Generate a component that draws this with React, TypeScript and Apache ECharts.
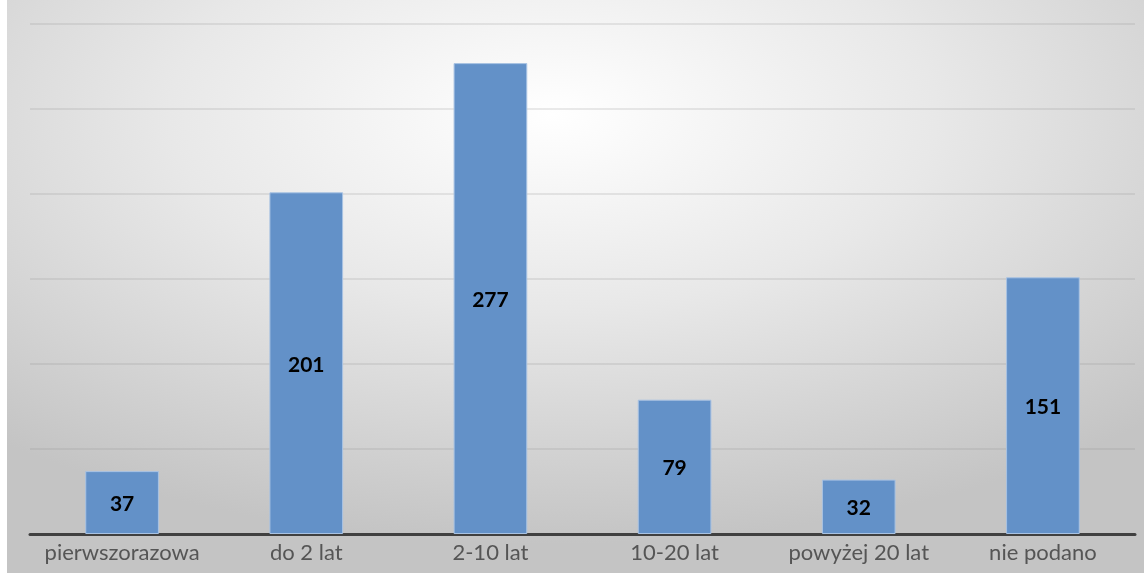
import React, { useEffect, useRef } from "react";
import * as echarts from "echarts";

const categories = ["pierwszorazowa", "do 2 lat", "2-10 lat", "10-20 lat", "powyżej 20 lat", "nie podano"];
const values = [37, 201, 277, 79, 32, 151];

export default function App() {
  const ref = useRef<HTMLDivElement>(null);
  useEffect(() => {
    const chart = echarts.init(ref.current!, null, { renderer: "svg" });
    chart.setOption({
      animation: false,
      backgroundColor: {
        type: "radial",
        x: 0.48,
        y: 0.2,
        r: 0.75,
        colorStops: [
          { offset: 0, color: "#ffffff" },
          { offset: 0.45, color: "#e8e8e8" },
          { offset: 1, color: "#c4c4c4" },
        ],
      },
      grid: { left: 23, right: 9, top: 24, bottom: 39, containLabel: false },
      xAxis: {
        type: "category",
        data: categories,
        axisLine: { lineStyle: { color: "#404040", width: 3 } },
        axisTick: { show: false },
        axisLabel: {
          interval: 0,
          color: "#555555",
          fontFamily: "Lato",
          fontSize: 22,
          margin: 6,
        },
      },
      yAxis: {
        type: "value",
        min: 0,
        max: 300,
        interval: 50,
        axisLabel: { show: false },
        axisLine: { show: false },
        axisTick: { show: false },
        splitLine: { lineStyle: { color: "rgba(140,140,140,0.18)", width: 2 } },
      },
      series: [
        {
          type: "bar",
          data: values,
          barWidth: "40%",
          itemStyle: {
            color: "#6391c8",
            borderColor: "#a9c3e3",
            borderWidth: 1,
          },
          label: {
            show: true,
            position: "inside",
            color: "#000000",
            fontFamily: "Lato",
            fontWeight: "bold",
            fontSize: 21,
          },
        },
      ],
    });
    return () => chart.dispose();
  }, []);
  return (
    <div
      ref={ref}
      style={{ position: "fixed", left: 7, top: 0, width: 1137, height: 573 }}
    />
  );
}
